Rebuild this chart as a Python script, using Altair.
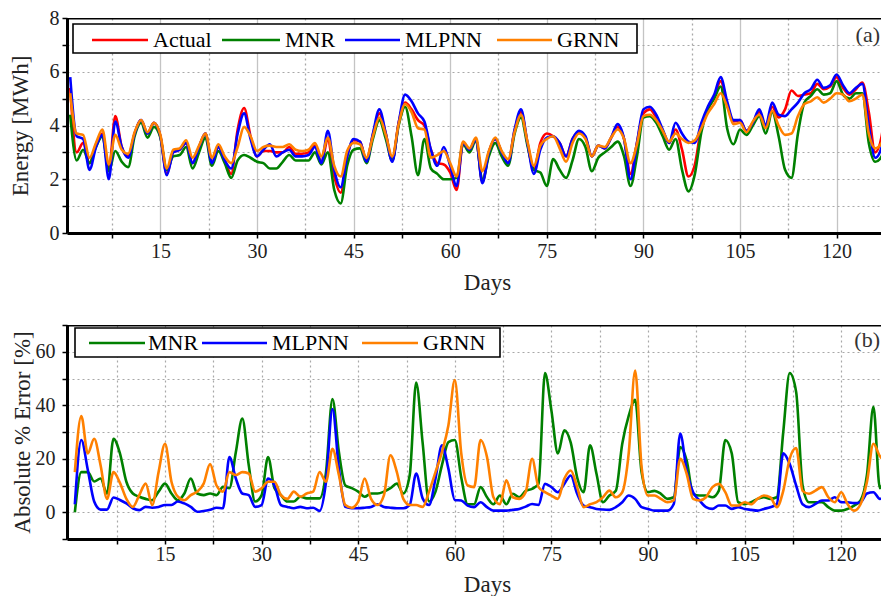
import altair as alt
import pandas as pd

FONT = "Liberation Serif"

# ---------------- data: panel (a) energy [MWh], days 1..129 ----------------
days = list(range(1, 130))
actual = [5.4, 3.0, 3.35, 2.6, 3.3, 3.7, 2.35, 4.35, 3.2, 2.85,
          3.7, 4.2, 3.7, 4.1, 3.6, 2.2, 3.0, 3.1, 3.35, 2.6,
          3.2, 3.7, 2.6, 3.2, 2.7, 2.2, 3.85, 4.65, 3.6, 2.85,
          3.05, 3.05, 3.0, 3.0, 3.2, 2.95, 2.95, 3.0, 3.25, 2.65,
          3.45, 2.1, 1.5, 2.85, 3.45, 3.4, 2.7, 3.65, 4.45, 3.7,
          2.7, 4.1, 4.85, 4.6, 4.2, 4.0, 3.1, 2.6, 2.55, 2.25,
          1.6, 3.35, 3.1, 3.5, 1.9, 3.0, 3.5, 3.0, 2.6, 3.8,
          4.5, 3.35, 2.35, 3.35, 3.7, 3.6, 3.35, 2.85, 3.5, 3.75,
          3.55, 2.85, 3.25, 3.15, 3.55, 3.95, 3.5, 2.2, 3.35, 4.45,
          4.6, 4.3, 3.8, 3.35, 3.85, 3.1, 2.1, 2.55, 3.95, 4.6,
          5.05, 5.65, 4.8, 4.15, 4.2, 3.8, 4.1, 4.5, 3.95, 4.7,
          4.3, 4.6, 5.3, 5.1, 5.15, 5.2, 5.55, 5.35, 5.45, 5.8,
          5.4, 5.15, 5.35, 5.6, 4.5, 3.0, 3.6, 5.7, 6.0]
mnr = [4.4, 2.7, 3.1, 2.6, 3.2, 3.6, 2.3, 3.05, 2.65, 2.45,
       3.6, 4.1, 3.55, 3.95, 3.55, 2.35, 2.85, 2.9, 3.2, 2.4,
       3.0, 3.55, 2.5, 3.05, 2.6, 2.05, 2.7, 2.9, 2.8, 2.65,
       2.6, 2.4, 2.4, 2.65, 2.9, 2.7, 2.7, 2.7, 3.0, 2.55,
       3.0, 1.6, 1.1, 2.5, 3.1, 3.15, 2.6, 3.5, 4.2, 3.5,
       2.7, 4.0, 4.7, 3.6, 2.15, 3.5, 2.4, 2.2, 2.0, 2.0,
       2.05, 3.3, 3.0, 3.45, 1.95, 2.85, 3.35, 2.85, 2.5, 3.7,
       4.3, 3.25, 2.35, 2.25, 1.75, 2.75, 2.35, 2.05, 2.7, 3.5,
       3.2, 2.3, 2.8, 3.0, 3.2, 3.4, 2.85, 1.75, 2.85, 4.3,
       4.35, 4.1, 3.6, 3.1, 3.5, 2.35, 1.55, 2.2, 3.75, 4.6,
       5.0, 5.45, 3.9, 3.3, 3.85, 3.65, 4.0, 4.35, 3.7, 4.5,
       3.6, 2.35, 2.05, 3.7, 4.85, 5.1, 5.35, 5.15, 5.2, 5.65,
       5.15, 5.0, 5.2, 5.2, 3.35, 2.65, 2.85, 5.1, 5.5]
mlpnn = [5.8, 3.6, 3.5, 2.35, 3.2, 3.65, 2.0, 4.15, 3.2, 2.8,
         3.7, 4.2, 3.7, 4.1, 3.6, 2.15, 3.0, 3.1, 3.35, 2.6,
         3.2, 3.7, 2.6, 3.2, 2.7, 2.4, 3.7, 4.45, 3.5, 2.85,
         3.1, 3.3, 2.85, 3.0, 3.1, 2.85, 2.85, 2.9, 3.2, 2.6,
         3.8, 2.35, 1.7, 2.85, 3.5, 3.4, 2.65, 3.7, 4.6, 3.7,
         2.65, 4.1, 5.15, 4.9, 4.45, 4.15, 3.1, 2.5, 3.2, 2.5,
         1.75, 3.35, 3.1, 3.5, 1.85, 3.0, 3.5, 3.0, 2.6, 3.85,
         4.6, 3.35, 2.2, 3.1, 3.55, 3.6, 3.35, 2.85, 3.5, 3.8,
         3.6, 2.85, 3.25, 3.15, 3.55, 4.05, 3.5, 2.0, 3.35, 4.6,
         4.7, 4.4, 3.85, 3.35, 4.1, 3.7, 3.4, 3.35, 4.1, 4.7,
         5.15, 5.8, 4.9, 4.2, 4.2, 3.8, 4.1, 4.6, 4.0, 4.85,
         4.4, 4.35, 4.6, 4.85, 5.2, 5.35, 5.7, 5.4, 5.5, 5.9,
         5.5, 5.2, 5.4, 5.55, 4.0, 2.8, 3.2, 5.6, 6.0]
grnn = [5.2, 3.7, 3.65, 2.8, 3.35, 3.85, 2.55, 3.65, 3.1, 2.95,
        3.75, 4.2, 3.75, 4.1, 3.65, 2.4, 3.1, 3.15, 3.45, 2.8,
        3.25, 3.7, 2.8, 3.3, 2.85, 2.6, 3.2, 3.95, 3.6, 3.05,
        3.2, 3.25, 3.2, 3.2, 3.3, 3.1, 3.05, 3.1, 3.35, 2.85,
        3.55, 2.5, 2.1, 3.05, 3.35, 3.3, 2.8, 3.6, 4.3, 3.65,
        2.85, 4.05, 4.8, 4.5, 3.9, 3.85, 2.8, 2.9, 3.05, 2.6,
        2.1, 3.4, 3.15, 3.55, 2.3, 3.05, 3.55, 3.05, 2.75, 3.75,
        4.4, 3.4, 2.5, 3.25, 3.5, 3.6, 3.15, 2.65, 3.35, 3.7,
        3.5, 2.85, 3.25, 3.2, 3.55, 3.85, 3.5, 2.6, 3.3, 4.35,
        4.4, 4.2, 3.8, 3.4, 3.7, 3.5, 3.35, 3.45, 3.9, 4.45,
        4.8, 5.2, 4.7, 4.05, 4.1, 3.75, 4.15, 4.4, 3.9, 4.55,
        4.0, 3.65, 3.7, 4.35, 4.8, 4.9, 5.05, 4.85, 5.0, 5.2,
        5.15, 4.9, 5.0, 5.15, 3.7, 3.15, 3.35, 4.7, 5.3]

# ---------------- data: panel (b) absolute % error, days 1..128 ----------------
err_days = list(range(1, 129))
err_mnr = [0, 15, 15, 11.5, 12.6, 7, 27.5, 22, 11.4, 7,
           5.8, 5, 4.5, 7.7, 10.7, 7, 4.5, 7, 12.6, 7,
           6.4, 7, 6.4, 9.5, 9, 22.5, 35, 17.6, 4, 6.4,
           20.6, 9, 6.4, 4, 4, 5.8, 5.2, 5.2, 5.2, 15,
           42.3, 22.5, 10, 9, 7.7, 5.8, 7, 7, 7.7, 9,
           10.7, 7, 13.9, 48.5, 26, 4, 7.7, 17.6, 26.2, 27,
           13, 3, 3, 9.4, 5.6, 3, 6.25, 3, 6.9, 5.6,
           8, 8.75, 10.6, 52, 38, 22, 30.6, 26, 13, 7.5,
           25, 14.4, 3.75, 6.25, 8, 25.6, 36, 42, 15, 7.5,
           8, 6.9, 5, 5.6, 24.4, 19.4, 6.9, 6.25, 6.25, 5.6,
           8.1, 27, 22, 3.75, 3, 3.75, 5, 5.6, 5, 5.6,
           30, 52, 45, 10, 3.75, 3.75, 3.75, 1.9, 0.6, 0.6,
           1.25, 2.5, 4.4, 14, 39.4, 9, 16, 26]
err_mlpnn = [3, 27, 16, 4, 1, 1, 5.5, 4.6, 3.3, 1.5,
             0.8, 2, 1.7, 2, 2.7, 2.7, 4, 3.3, 2, 0.2,
             0.5, 0.9, 1.7, 1.5, 20.6, 12.6, 7, 6.4, 2, 2.7,
             12.6, 10, 2.7, 2, 1.5, 2, 1.5, 1.7, 0.5, 11.4,
             38.6, 16.3, 2, 1.5, 1.5, 1.7, 2, 3, 2, 1.7,
             1.5, 1.5, 2.7, 14.5, 5.2, 2.7, 12.6, 25, 16.3, 4.6,
             4.4, 2.5, 1.9, 3.75, 1.9, 0.6, 0.6, 0.6, 0.9, 1.25,
             2.1, 3.1, 2.75, 10.6, 9.4, 7.5, 10.6, 13.75, 6.9, 2.5,
             1.9, 1.25, 1, 0.9, 1.9, 3.75, 6.25, 5, 1.9, 1.25,
             0.6, 0.6, 0.6, 3.1, 29.4, 15.6, 7.5, 4.4, 1.9, 1.25,
             2.5, 2.5, 1.25, 1.9, 1.25, 0.9, 0.6, 1.25, 1.9, 3.1,
             22, 18, 10, 3, 1.9, 3.1, 4.4, 4.4, 5.6, 3.75,
             3.75, 3.4, 3.75, 7, 7.5, 5, 6, 9]
err_grnn = [15, 36, 22, 27.5, 17.5, 5, 15, 11, 5, 2,
            6.4, 10.7, 2.7, 15, 25.6, 11.4, 5.8, 4.5, 6.4, 7.7,
            10.7, 18, 10, 7.7, 15, 13.9, 15, 14.5, 7.7, 9,
            11.4, 11.4, 6.4, 5, 7.7, 5.8, 7, 7.7, 15, 11.4,
            23.7, 13.9, 2.7, 1.7, 4, 12.6, 5, 2.7, 6.4, 21.3,
            15, 5, 2.7, 2.7, 2, 7.7, 15, 22.5, 32.4, 49.4,
            22, 10, 9.4, 27, 20.6, 5.6, 3, 11.9, 5.6, 5,
            7.5, 20, 9.4, 7.5, 6.25, 5, 12.5, 15.6, 9.4, 1.9,
            3, 3.75, 5.6, 8.1, 5.6, 7.5, 22, 53, 17, 6.25,
            6.25, 5, 3.75, 4.4, 20, 14.4, 5, 4.4, 5.6, 9.4,
            10.6, 7.5, 2.5, 2.5, 3.75, 3, 5, 6.25, 5.6, 1.9,
            8, 20, 24, 8, 6.9, 8.1, 9.4, 5.6, 3.75, 7.5,
            3, 0.6, 3, 11.4, 25.6, 21, 19, 23]

top_names = ["Actual", "MNR", "MLPNN", "GRNN"]
top_colors = ["#ff0000", "#008000", "#0000ff", "#ff8000"]
err_names = ["MNR", "MLPNN", "GRNN"]
err_colors = ["#008000", "#0000ff", "#ff8000"]

df_top = pd.concat([pd.DataFrame({"day": days, "value": v, "series": n})
                    for n, v in zip(top_names, [actual, mnr, mlpnn, grnn])])
df_err = pd.concat([pd.DataFrame({"day": err_days, "value": v, "series": n})
                    for n, v in zip(err_names, [err_mnr, err_mlpnn, err_grnn])])

one = pd.DataFrame({"k": [0]})
x_ticks = [7.5 * i for i in range(1, 18)]
W = 814
PX_PER_DAY = 6.44


# ---------------- helpers ----------------
def legend_layers(entries, box, yc, ytext):
    x0, x1, y0, y1 = box
    layers = [alt.Chart(one).mark_rect(fill="white", stroke="black", strokeWidth=1.6).encode(
        x=alt.value(x0), x2=alt.value(x1), y=alt.value(y0), y2=alt.value(y1))]
    for name, col, a, b, tx in entries:
        layers.append(alt.Chart(one).mark_rule(color=col, strokeWidth=2.6).encode(
            x=alt.value(a), x2=alt.value(b), y=alt.value(yc)))
        layers.append(alt.Chart(one).mark_text(text=name, align="left", baseline="middle",
                                               font=FONT, fontSize=22, color="black").encode(
            x=alt.value(tx), y=alt.value(ytext)))
    return layers


def panel(df, names, colors, xdomain, ydomain, xaxis, yaxis, width, height,
          legend, tag, tagy):
    lines = []
    for n in names:
        lines.append(alt.Chart(df).transform_filter(alt.datum.series == n).mark_line(
            interpolate="monotone", strokeWidth=2.6, clip=True).encode(
            x=alt.X("day:Q", scale=alt.Scale(domain=xdomain, nice=False, zero=False), axis=xaxis),
            y=alt.Y("value:Q", scale=alt.Scale(domain=ydomain, nice=False, zero=False), axis=yaxis),
            color=alt.Color("series:N", scale=alt.Scale(domain=names, range=colors), legend=None),
        ))
    frame = alt.Chart(one).mark_rule(color="black", strokeWidth=3, clip=True).encode(y=alt.value(0))
    tagmark = alt.Chart(one).mark_text(text=tag, align="right", baseline="middle", font=FONT,
                                       fontSize=22, color="#333333").encode(
        x=alt.value(width - 1), y=alt.value(tagy))
    return alt.layer(*lines, frame, *legend, tagmark).properties(width=width, height=height)


major15 = "datum.value % 15 === 0"

top_xaxis = alt.Axis(values=x_ticks, labelExpr=f"{major15} ? datum.label : ''", title="Days",
                     grid=True,
                     gridDash=alt.condition(major15, alt.value([]), alt.value([2, 3])),
                     gridColor=alt.condition(major15, alt.value("#c4c4c4"), alt.value("#a8a8a8")),
                     gridWidth=1.3, tickSize=5, labelPadding=3, titlePadding=10, titleX=420,
                     labelFlush=False, labelOverlap=False)
top_yaxis = alt.Axis(values=list(range(0, 9)), labelExpr="datum.value % 2 === 0 ? datum.label : ''",
                     title="Energy [MWh]", grid=True, gridDash=[2, 3], gridColor="#a8a8a8",
                     tickSize=5, labelPadding=3, titlePadding=17, labelOverlap=False)

bot_xaxis = alt.Axis(values=x_ticks, labelExpr=f"{major15} ? datum.label : ''", title="Days",
                     grid=True, gridDash=[2, 3], gridColor="#a8a8a8", gridWidth=1.2,
                     tickSize=5, labelPadding=0, titlePadding=9, titleX=420,
                     labelFlush=False, labelOverlap=False)
bot_yaxis = alt.Axis(values=list(range(-10, 71, 10)),
                     labelExpr="datum.value >= 0 && datum.value % 20 === 0 ? datum.label : ''",
                     title="Absolute % Error [%]", grid=True, gridDash=[2, 3], gridColor="#a8a8a8",
                     tickSize=5, labelPadding=7, titlePadding=1, labelOverlap=False)

top_legend = legend_layers(
    [(n, c, a, b, t) for n, c, (a, b, t) in zip(
        top_names, top_colors, [(25, 81, 86), (155, 213, 218), (278, 333, 338), (430, 485, 490)])],
    (6, 570, 6, 35), 22, 22)
bot_legend = legend_layers(
    [(n, c, a, b, t) for n, c, (a, b, t) in zip(
        err_names, err_colors, [(22, 78, 81), (135, 200, 205), (295, 351, 356)])],
    (8, 433, 3, 32), 18, 18)

top_dom = [0.5, 0.5 + W / PX_PER_DAY]
bot_dom = [-0.22, -0.22 + W / PX_PER_DAY]

top = panel(df_top, top_names, top_colors, top_dom, [0, 8], top_xaxis, top_yaxis,
            W, 215, top_legend, "(a)", 17)
bottom = panel(df_err, err_names, err_colors, bot_dom, [-10, 70], bot_xaxis, bot_yaxis,
               W, 214, bot_legend, "(b)", 15)

chart = alt.vconcat(top, bottom, spacing=21,
                    padding={"left": 1, "top": 0, "right": 0, "bottom": 0},
                    background="white")
chart = chart.resolve_scale(x="independent", y="independent", color="independent")
chart = chart.configure(font=FONT).configure_view(stroke=None).configure_axis(
    domainColor="black", domainWidth=3, tickColor="black", tickWidth=1.5,
    labelFont=FONT, labelFontSize=20, labelColor="#222222",
    titleFont=FONT, titleFontSize=23, titleFontWeight="normal", titleColor="#222222")

chart.save("out.html", embed_options={"renderer": "svg", "actions": False})
